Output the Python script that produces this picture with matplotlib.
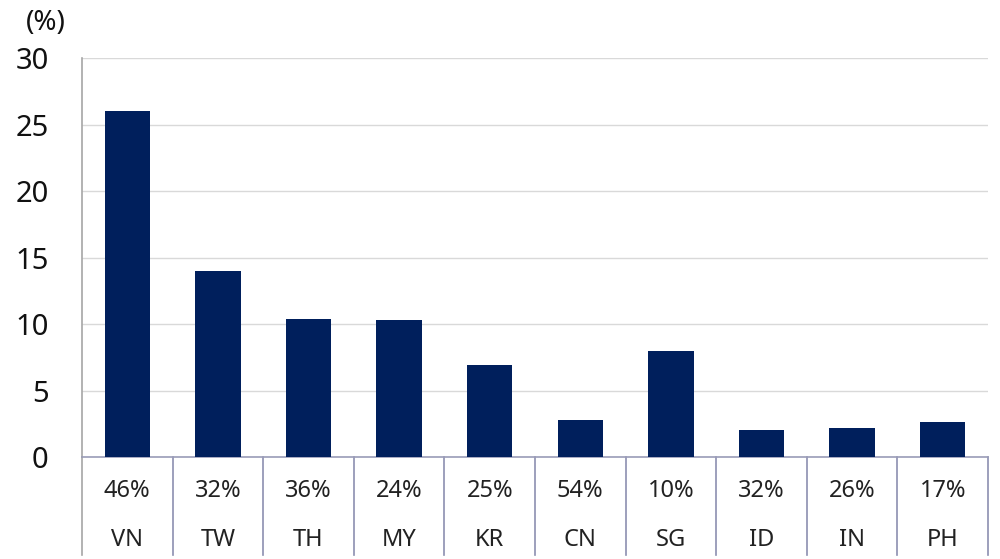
import matplotlib
matplotlib.use("Agg")
import matplotlib.pyplot as plt
import matplotlib.transforms as mtransforms

plt.rcParams['font.family'] = ['Noto Sans', 'DejaVu Sans']

countries = ["VN", "TW", "TH", "MY", "KR", "CN", "SG", "ID", "IN", "PH"]
values = [26.0, 14.0, 10.4, 10.3, 6.9, 2.8, 8.0, 2.0, 2.2, 2.6]
shares = ["46%", "32%", "36%", "24%", "25%", "54%", "10%", "32%", "26%", "17%"]
yticks = [0, 5, 10, 15, 20, 25, 30]

fig = plt.figure(figsize=(10, 5.59), dpi=100)
ax = fig.add_axes([0.082, 0.1825, 0.906, 0.7135])

x = list(range(len(countries)))
ax.bar(x, values, width=0.5, color="#001f5c", zorder=3)
ax.set_xlim(-0.5, len(countries) - 0.5)
ax.set_ylim(0, 30)
ax.set_yticks(yticks)
ax.set_yticklabels([str(t) for t in yticks], fontsize=21, color="#111111")
ax.tick_params(axis='y', length=0, pad=24)
ax.set_xticks([])
ax.grid(axis='y', color="#d9d9d9", linewidth=1, zorder=0)
for s in ["top", "right"]:
    ax.spines[s].set_visible(False)
ax.spines["left"].set_color("#a6a6a6")
ax.spines["bottom"].set_color("#9a9cb8")
ax.spines["left"].set_linewidth(1.2)
ax.spines["bottom"].set_linewidth(1.2)

trans = mtransforms.blended_transform_factory(ax.transData, ax.transAxes)
tbl_bottom = -0.245
for i in range(len(countries) + 1):
    ax.plot([i - 0.5, i - 0.5], [0, tbl_bottom], transform=trans,
            color="#8c8fb0" if i > 0 else "#a6a6a6", linewidth=1.2, clip_on=False)
for i, (c, s) in enumerate(zip(countries, shares)):
    ax.text(i, -0.085, s, transform=trans, ha="center", va="center",
            fontsize=17, color="#222222")
    ax.text(i, -0.207, c, transform=trans, ha="center", va="center",
            fontsize=17, color="#222222")

fig.text(0.046, 0.958, "(%)", ha="center", va="center", fontsize=20, color="#111111")

fig.savefig("out.png", dpi=100, facecolor="white")
